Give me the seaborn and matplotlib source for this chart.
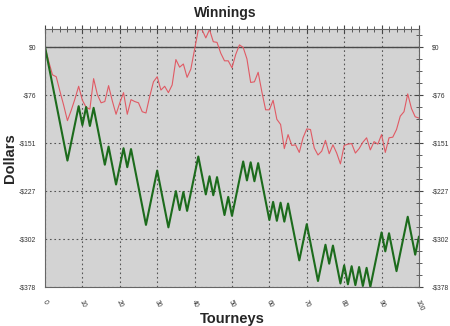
import numpy as np
import pandas as pd
import matplotlib
matplotlib.use("Agg")
import matplotlib.pyplot as plt
import matplotlib.transforms as mtransforms
import seaborn as sns
from matplotlib.ticker import MultipleLocator, FixedLocator

tourneys = list(range(0, 101))

green_values = [
    0, -29.8, -59.6, -89.4, -119.2, -149.0, -178.8, -150.3, -121.8, -93.3,
    -123.1, -94.6, -124.4, -95.9, -125.7, -155.5, -185.3, -156.8, -186.6, -216.4,
    -187.9, -159.4, -189.2, -160.7, -190.5, -220.3, -250.1, -279.9, -251.4, -222.9,
    -194.4, -224.2, -254.0, -283.8, -255.3, -226.8, -256.6, -228.1, -257.9, -229.4,
    -200.9, -172.4, -202.2, -232.0, -203.5, -233.3, -204.8, -234.6, -264.4, -235.9,
    -265.7, -237.2, -208.7, -180.2, -210.0, -181.5, -211.3, -182.8, -212.6, -242.4,
    -272.2, -243.7, -273.5, -245.0, -274.8, -246.3, -276.1, -305.9, -335.7, -307.2,
    -278.7, -308.5, -338.3, -368.1, -339.6, -311.1, -340.9, -312.4, -342.2, -372.0,
    -343.5, -373.3, -344.8, -374.6, -346.1, -375.9, -347.4, -377.2, -348.7, -320.2,
    -291.7, -321.5, -293.0, -322.8, -352.6, -324.1, -295.6, -267.1, -296.9, -326.7,
    -298.2,
]

red_values = [
    0, -23, -44, -47, -70, -92, -116, -100, -82, -62,
    -84, -95, -98, -50, -75, -88, -86, -61, -85, -106,
    -88, -72, -106, -83, -86, -88, -102, -104, -78, -55,
    -47, -68, -62, -72, -60, -20, -32, -27, -48, -35,
    -4, 27, 27, 14, 27, 8, 7, -10, -22, -22,
    -33, -12, 3, -1, -19, -56, -55, -40, -71, -99,
    -99, -84, -114, -122, -160, -138, -155, -154, -166, -143,
    -129, -130, -159, -170, -164, -147, -168, -154, -167, -184,
    -155, -153, -152, -167, -160, -150, -143, -162, -149, -153,
    -138, -166, -143, -142, -130, -109, -102, -74, -97, -110,
    -112,
]

y_ticks = [0, -75.6, -151.2, -226.8, -302.4, -378]
y_tick_labels = ["$0", "-$76", "-$151", "-$227", "-$302", "-$378"]
x_ticks = [0, 10, 20, 30, 40, 50, 60, 70, 80, 90, 100]

df = pd.DataFrame({"Tourneys": tourneys, "green": green_values, "red": red_values})

sns.set_style("white")
plt.rcParams["font.family"] = ["Liberation Sans", "DejaVu Sans"]

fig = plt.figure(figsize=(4.5, 3.26), dpi=100)
ax = fig.add_axes([0.1, 0.1187, 0.831, 0.7923])
ax.set_facecolor("#d3d3d3")

sns.lineplot(data=df, x="Tourneys", y="red", ax=ax, color="#e05a64", linewidth=0.8)
sns.lineplot(data=df, x="Tourneys", y="green", ax=ax, color="#1c6b1c", linewidth=1.5)

ax.axhline(0, color="#4a4a4a", linewidth=1.0, zorder=1)

ax.set_xlim(0, 100)
ax.set_ylim(-378, 28)

ax.xaxis.set_major_locator(FixedLocator(x_ticks))
ax.xaxis.set_minor_locator(MultipleLocator(2))
ax.yaxis.set_major_locator(FixedLocator(y_ticks))
ax.yaxis.set_minor_locator(MultipleLocator(18.9))
ax.set_yticklabels(y_tick_labels)
ax.set_xticklabels([str(t) for t in x_ticks], rotation=-65, ha="center", va="top")

ax.grid(True, which="major", linestyle=(0, (1.5, 2.5)), color="#555555", linewidth=0.8)

ax.tick_params(axis="both", which="major", direction="inout", length=6, width=0.8,
               labelsize=4.9, labelcolor="#333333", color="#444444",
               right=True, top=True, labelright=True)
ax.tick_params(axis="both", which="minor", direction="inout", length=4, width=0.6,
               color="#444444", right=True, top=True)
ax.tick_params(axis="y", which="major", pad=3.5)
ax.tick_params(axis="x", which="major", pad=5)

shift_right = mtransforms.ScaledTranslation(3.0 / 72, 0, fig.dpi_scale_trans)
for t in ax.yaxis.get_major_ticks():
    t.label2.set_transform(t.label2.get_transform() + shift_right)

for s in ax.spines.values():
    s.set_color("#666666")
    s.set_linewidth(0.8)

fig.text(0.5, 1 - 13 / 326, "Winnings", fontsize=10, fontweight="bold",
         ha="center", va="center")
ax.set_xlabel("Tourneys", fontsize=10.5, fontweight="bold")
ax.set_ylabel("Dollars", fontsize=10.5, fontweight="bold")
ax.yaxis.set_label_coords(-0.093, 0.5)
ax.xaxis.set_label_coords(0.5, -0.123)
ax.xaxis.label.set_va("center")
ax.yaxis.label.set_va("center")

fig.savefig("out.png", dpi=100, facecolor="white")
